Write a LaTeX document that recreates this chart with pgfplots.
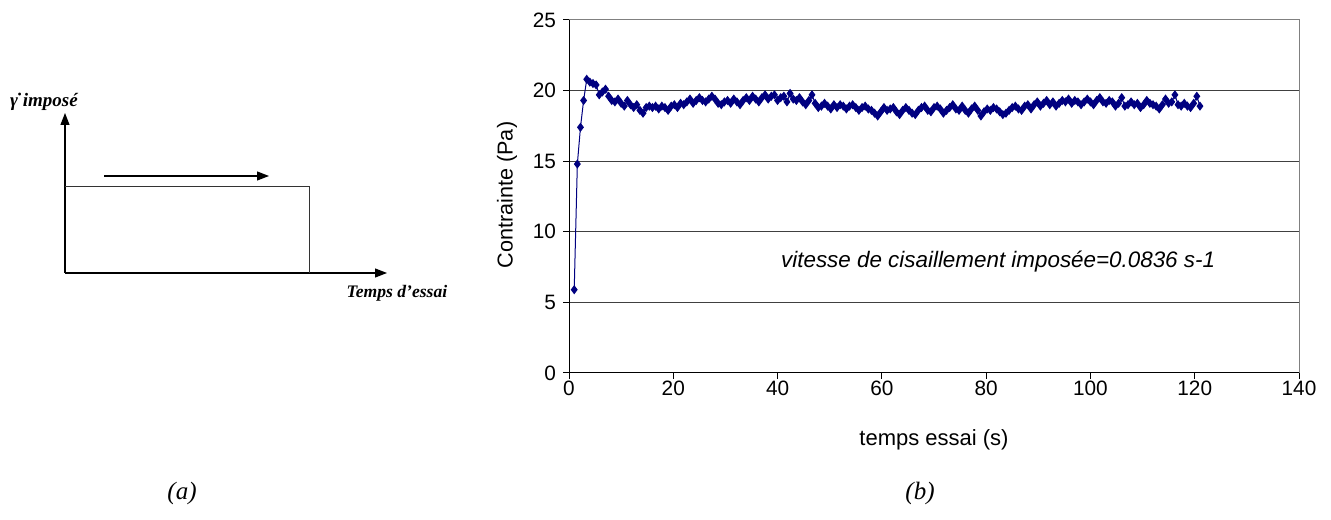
\documentclass[border=0pt]{standalone}
\usepackage{pgfplots}
\pgfplotsset{compat=1.18}
\usepackage{fontspec}
\setmainfont{Liberation Sans}
\newfontfamily\timesfont{Liberation Serif}
\usetikzlibrary{arrows.meta}
\definecolor{navyd}{RGB}{0,0,128}
\pgfplotstableread{
x y
1.0 5.9
1.6 14.8
2.2 17.4
2.8 19.3
3.4 20.8
4.0 20.6
4.6 20.5
5.2 20.4
5.8 19.7
6.4 19.9
7.0 20.1
7.6 19.6
8.2 19.3
8.8 19.2
9.4 19.4
10.0 19.1
10.6 18.9
11.2 19.3
11.8 19.0
12.4 18.8
13.0 19.0
13.6 18.6
14.2 18.4
14.8 18.8
15.4 18.9
16.0 18.8
16.6 18.9
17.2 18.7
17.8 18.9
18.4 18.8
19.0 18.6
19.6 18.9
20.2 19.0
20.8 18.8
21.4 19.1
22.0 19.0
22.6 19.2
23.2 19.4
23.8 19.1
24.4 19.3
25.0 19.5
25.6 19.3
26.2 19.2
26.8 19.4
27.4 19.6
28.0 19.4
28.6 19.1
29.2 19.0
29.8 19.2
30.4 19.3
31.0 19.1
31.6 19.4
32.2 19.2
32.8 19.0
33.4 19.3
34.0 19.5
34.6 19.3
35.2 19.6
35.8 19.4
36.4 19.2
37.0 19.5
37.6 19.7
38.2 19.4
38.8 19.6
39.4 19.7
40.0 19.3
40.6 19.5
41.2 19.6
41.8 19.2
42.4 19.8
43.0 19.4
43.6 19.3
44.2 19.5
44.8 19.2
45.4 19.0
46.0 19.3
46.6 19.7
47.2 19.1
47.8 18.8
48.4 18.9
49.0 19.1
49.6 18.9
50.2 18.7
50.8 19.0
51.4 18.8
52.0 19.0
52.6 18.9
53.2 18.7
53.8 18.9
54.4 19.0
55.0 18.8
55.6 18.6
56.2 18.8
56.8 18.9
57.4 18.7
58.0 18.6
58.6 18.4
59.2 18.2
59.8 18.5
60.4 18.8
61.0 18.6
61.6 18.7
62.2 18.8
62.8 18.5
63.4 18.3
64.0 18.6
64.6 18.8
65.2 18.6
65.8 18.4
66.4 18.3
67.0 18.6
67.6 18.8
68.2 18.9
68.8 18.6
69.4 18.5
70.0 18.8
70.6 18.9
71.2 18.7
71.8 18.4
72.4 18.6
73.0 18.8
73.6 19.0
74.2 18.7
74.8 18.6
75.4 18.9
76.0 18.6
76.6 18.4
77.2 18.7
77.8 18.9
78.4 18.6
79.0 18.2
79.6 18.5
80.2 18.7
80.8 18.6
81.4 18.8
82.0 18.7
82.6 18.5
83.2 18.3
83.8 18.4
84.4 18.6
85.0 18.8
85.6 18.9
86.2 18.7
86.8 18.6
87.4 18.9
88.0 19.0
88.6 18.7
89.2 19.0
89.8 19.2
90.4 18.9
91.0 19.1
91.6 19.3
92.2 19.0
92.8 19.2
93.4 18.9
94.0 19.1
94.6 19.3
95.2 19.2
95.8 19.4
96.4 19.1
97.0 19.3
97.6 19.2
98.2 19.0
98.8 19.2
99.4 19.4
100.0 19.2
100.6 19.0
101.2 19.3
101.8 19.5
102.4 19.2
103.0 19.1
103.6 19.3
104.2 19.2
104.8 18.9
105.4 19.1
106.0 19.5
106.6 18.9
107.2 19.0
107.8 19.2
108.4 19.0
109.0 19.1
109.6 18.8
110.2 19.0
110.8 19.3
111.4 19.1
112.0 19.0
112.6 18.9
113.2 18.7
113.8 19.0
114.4 19.4
115.0 19.1
115.6 19.2
116.2 19.7
116.8 19.0
117.4 18.9
118.0 19.1
118.6 18.9
119.2 18.8
119.8 19.1
120.4 19.6
121.0 18.9
}\datatable
\begin{document}
\begin{tikzpicture}[x=1pt,y=1pt]
\useasboundingbox (0,0) rectangle (665.5,259.5);
% ---------- (a) schematic ----------
\begin{axis}[
  at={(32.5pt,123pt)}, anchor=origin,
  scale only axis, width=161pt, height=80pt,
  xmin=0, xmax=322, ymin=0, ymax=160,
  axis lines=left, axis line style={black, line width=0.6pt, -{Triangle[length=6pt,width=4.5pt]}},
  ticks=none, clip=false,
]
\addplot[black!80, line width=0.5pt, mark=none] coordinates {(0,86) (244,86) (244,0)};
\addplot[black, line width=0.6pt, mark=none, -{Triangle[length=6pt,width=4.5pt]}] coordinates {(39,97) (204,97)};
\end{axis}
\node[font={\timesfont\bfseries\itshape\fontsize{9.5}{11}\selectfont}] at (22,208.5) {γ̇ imposé};
\node[font={\timesfont\bfseries\itshape\fontsize{8.8}{10}\selectfont}] at (198.5,113) {Temps d’essai};
\node[font={\timesfont\itshape\fontsize{12.5}{14}\selectfont}] at (91,13) {(a)};
\node[font={\timesfont\itshape\fontsize{12.5}{14}\selectfont}] at (460,13) {(b)};
% ---------- (b) chart ----------
\begin{axis}[
  at={(284.5pt,73pt)}, anchor=south west,
  scale only axis, width=365pt, height=176.5pt,
  xmin=0, xmax=140, ymin=0, ymax=25,
  xtick={0,20,...,140}, ytick={0,5,...,25},
  tick align=outside, major tick length=3pt,
  tick style={black, line width=0.5pt},
  xtick pos=bottom, ytick pos=left,
  axis line style={gray, line width=0.5pt},
  ymajorgrids, grid style={black!75, line width=0.5pt},
  ticklabel style={font=\fontsize{10.4}{12}\selectfont},
  xticklabel style={yshift=2.5pt},
  /pgf/number format/assume math mode=true,
  clip=false,
]
\addplot[navyd, line width=0.5pt, mark=diamond*, mark size=1.9pt, mark options={solid, fill=navyd, draw=navyd}] table[x=x,y=y] {\datatable};
\draw[black, line width=0.5pt] (rel axis cs:0,1) -- (rel axis cs:0,0) -- (rel axis cs:1,0);
\node[font=\itshape\fontsize{11.2}{13}\selectfont] at (axis cs:82.3,7.9) {vitesse de cisaillement imposée=0.0836 s-1};
\end{axis}
\node[rotate=90, font=\fontsize{10.8}{13}\selectfont] at (253.5,162) {Contrainte (Pa)};
\node[font=\fontsize{11}{13}\selectfont] at (467,39.5) {temps essai (s)};
\end{tikzpicture}
\end{document}
